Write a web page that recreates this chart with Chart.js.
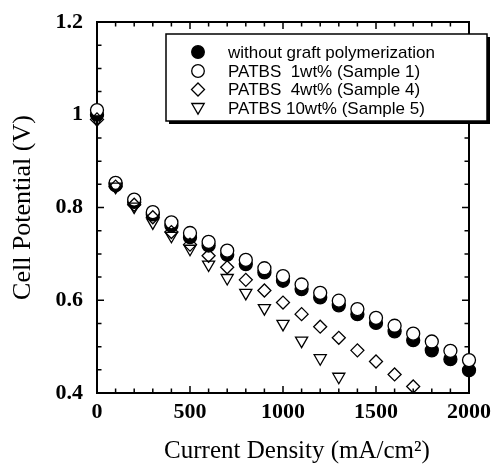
<!DOCTYPE html>
<html lang="en">
<head>
    <meta charset="UTF-8">
    <title>Cell Potential vs Current Density</title>
    <script src="https://cdn.jsdelivr.net/npm/chart.js"></script>
    <style>
        body { margin: 0; background: #fff; }
        #wrap { width: 493px; height: 469px; }
    </style>
</head>
<body>
    <div id="wrap">
        <canvas id="polChart" width="493" height="469"></canvas>
    </div>

    <script>
        // Current density (mA/cm2)
        const currentDensity = [0, 100, 200, 300, 400, 500, 600, 700, 800, 900, 1000,
                                1100, 1200, 1300, 1400, 1500, 1600, 1700, 1800, 1900, 2000];

        // Cell potential (V) for each membrane
        const noGraft = [1.00, 0.848, 0.812, 0.785, 0.761, 0.736, 0.718, 0.698, 0.678, 0.660, 0.642,
                         0.624, 0.606, 0.589, 0.570, 0.551, 0.533, 0.514, 0.492, 0.473, 0.449];
        const sample1 = [1.01, 0.853, 0.817, 0.790, 0.768, 0.745, 0.726, 0.707, 0.687, 0.669, 0.652,
                         0.634, 0.616, 0.599, 0.581, 0.562, 0.545, 0.528, 0.511, 0.491, 0.471];
        const sample4 = [0.99, 0.845, 0.806, 0.779, 0.747, 0.720, 0.696, 0.671, 0.644, 0.621, 0.595,
                         0.570, 0.543, 0.519, 0.492, 0.468, 0.440, 0.414];
        const sample5 = [0.99, 0.845, 0.802, 0.768, 0.739, 0.711, 0.677, 0.648, 0.616, 0.583, 0.549,
                         0.513, 0.475, 0.435];

        const seriesLabels = [
            'without graft polymerization',
            'PATBS  1wt% (Sample 1)',
            'PATBS  4wt% (Sample 4)',
            'PATBS 10wt% (Sample 5)'
        ];

        const xTicks = [0, 500, 1000, 1500, 2000];
        const yTicks = [0.4, 0.6, 0.8, 1, 1.2];
        const xTitle = 'Current Density (mA/cm²)';

        const serif = '"Liberation Serif", "Times New Roman", serif';

        function toPoints(values) {
            return values.map((v, i) => ({ x: currentDensity[i], y: v }));
        }

        // frame + inward ticks on all four sides, x title
        const frameTicks = {
            id: 'frameTicks',
            beforeDatasetsDraw(chart) {
                const ctx = chart.ctx;
                const a = chart.chartArea;
                const xs = chart.scales.x, ys = chart.scales.y;
                ctx.save();
                ctx.strokeStyle = '#000';
                ctx.lineWidth = 1.5;
                ctx.beginPath();
                for (let v = 0; v <= 2000; v += 100) {
                    const px = xs.getPixelForValue(v);
                    const len = xTicks.includes(v) ? 7 : 4.5;
                    ctx.moveTo(px, a.bottom); ctx.lineTo(px, a.bottom - len);
                    ctx.moveTo(px, a.top); ctx.lineTo(px, a.top + len);
                }
                for (let k = 0; k <= 16; k++) {
                    const v = 0.4 + k * 0.05;
                    const py = ys.getPixelForValue(v);
                    const len = (k % 4 === 0) ? 7 : 4.5;
                    ctx.moveTo(a.left, py); ctx.lineTo(a.left + len, py);
                    ctx.moveTo(a.right, py); ctx.lineTo(a.right - len, py);
                }
                ctx.stroke();
                ctx.lineWidth = 2;
                ctx.strokeRect(a.left, a.top, a.right - a.left, a.bottom - a.top);

                // x axis title sits a little right of the plot centre
                ctx.fillStyle = '#000';
                ctx.font = '25px ' + serif;
                ctx.textAlign = 'center';
                ctx.textBaseline = 'middle';
                ctx.fillText(xTitle, (a.left + a.right) / 2 + 14, 451);
                ctx.restore();
            }
        };

        // boxed legend with drop shadow in the upper right
        const boxLegend = {
            id: 'boxLegend',
            afterDraw(chart) {
                const ctx = chart.ctx;
                const bx = 166, by = 34, bw = 321, bh = 87;
                ctx.save();
                ctx.fillStyle = '#000';
                ctx.fillRect(bx + 3, by + bh, bw, 3);
                ctx.fillRect(bx + bw, by + 3, 3, bh);
                ctx.fillStyle = '#fff';
                ctx.fillRect(bx, by, bw, bh);
                ctx.strokeStyle = '#000';
                ctx.lineWidth = 1.5;
                ctx.strokeRect(bx, by, bw, bh);

                const mx = 198, tx = 228;
                const rows = [52, 71, 89.5, 108];
                ctx.lineWidth = 1.3;
                rows.forEach((y, i) => {
                    ctx.beginPath();
                    if (i === 0 || i === 1) {
                        ctx.arc(mx, y, 6.3, 0, Math.PI * 2);
                    } else if (i === 2) {
                        ctx.moveTo(mx, y - 6.5); ctx.lineTo(mx + 6.5, y);
                        ctx.lineTo(mx, y + 6.5); ctx.lineTo(mx - 6.5, y);
                        ctx.closePath();
                    } else {
                        ctx.moveTo(mx - 6.2, y - 4.5); ctx.lineTo(mx + 6.2, y - 4.5);
                        ctx.lineTo(mx, y + 6.2); ctx.closePath();
                    }
                    if (i === 0) { ctx.fillStyle = '#000'; ctx.fill(); }
                    ctx.stroke();
                });

                ctx.fillStyle = '#000';
                ctx.font = '17px "Liberation Sans", Arial, sans-serif';
                ctx.textBaseline = 'middle';
                rows.forEach((y, i) => ctx.fillText(seriesLabels[i], tx, y + 1));
                ctx.restore();
            }
        };

        const config = {
            type: 'scatter',
            data: {
                datasets: [{
                    label: seriesLabels[0],
                    data: toPoints(noGraft),
                    pointStyle: 'circle',
                    pointRadius: 6.5,
                    backgroundColor: '#000',
                    borderColor: '#000',
                    borderWidth: 1.3,
                    order: 4,
                    clip: false
                }, {
                    label: seriesLabels[1],
                    data: toPoints(sample1),
                    pointStyle: 'circle',
                    pointRadius: 6.5,
                    backgroundColor: '#fff',
                    borderColor: '#000',
                    borderWidth: 1.3,
                    order: 3,
                    clip: false
                }, {
                    label: seriesLabels[2],
                    data: toPoints(sample4),
                    pointStyle: 'rectRot',
                    pointRadius: 6.5,
                    backgroundColor: 'rgba(255,255,255,0)',
                    borderColor: '#000',
                    borderWidth: 1.3,
                    order: 2,
                    clip: false
                }, {
                    label: seriesLabels[3],
                    data: toPoints(sample5),
                    pointStyle: 'triangle',
                    rotation: 180,
                    pointRadius: 7,
                    backgroundColor: 'rgba(255,255,255,0)',
                    borderColor: '#000',
                    borderWidth: 1.3,
                    order: 1,
                    clip: false
                }]
            },
            options: {
                responsive: false,
                animation: false,
                layout: { padding: { top: 22, right: 24, left: 0, bottom: 0 } },
                plugins: {
                    legend: { display: false },
                    tooltip: { enabled: false }
                },
                scales: {
                    x: {
                        type: 'linear',
                        min: 0,
                        max: 2000,
                        afterFit(s) { s.height = 76; },
                        grid: { display: false },
                        border: { display: false },
                        afterBuildTicks(s) { s.ticks = xTicks.map(v => ({ value: v })); },
                        ticks: {
                            color: '#000',
                            padding: -2,
                            maxRotation: 0,
                            autoSkip: false,
                            font: { family: serif, size: 22, weight: 'bold' },
                            callback: v => String(v)
                        }
                    },
                    y: {
                        type: 'linear',
                        min: 0.4,
                        max: 1.2,
                        afterFit(s) { s.width = 97; },
                        grid: { display: false },
                        border: { display: false },
                        afterBuildTicks(s) { s.ticks = yTicks.map(v => ({ value: v })); },
                        ticks: {
                            color: '#000',
                            padding: 6,
                            autoSkip: false,
                            font: { family: serif, size: 22, weight: 'bold' },
                            callback: v => (v === 1 ? '1' : v.toFixed(1))
                        },
                        title: {
                            display: true,
                            text: 'Cell Potential (V)',
                            color: '#000',
                            padding: { top: 8, bottom: 0 },
                            font: { family: serif, size: 26 }
                        }
                    }
                }
            },
            plugins: [frameTicks, boxLegend]
        };

        new Chart(document.getElementById('polChart'), config);
    </script>
</body>
</html>
